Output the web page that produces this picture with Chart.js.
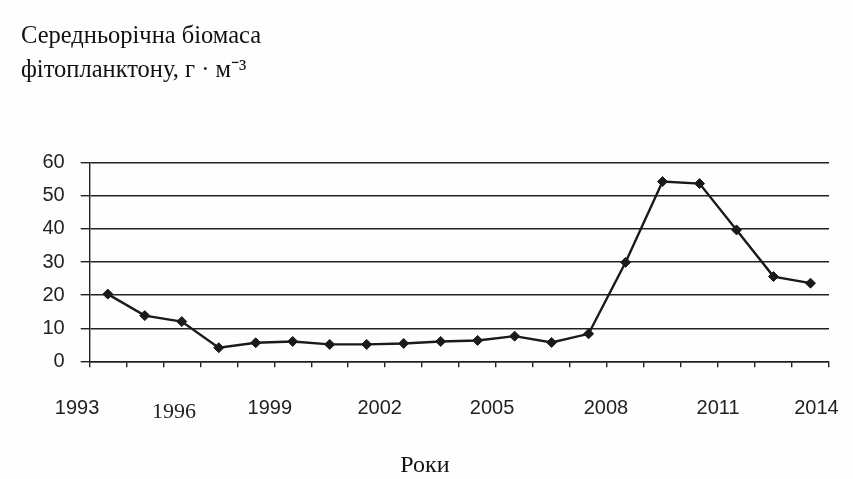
<!DOCTYPE html>
<html lang="uk">
<head>
  <meta charset="UTF-8" />
  <title>Середньорічна біомаса фітопланктону</title>
  <script src="https://cdn.jsdelivr.net/npm/chart.js"></script>
  <style>
    body {
      margin: 0;
      background: #fefefe;
    }
    #wrap {
      width: 853px;
      height: 479px;
    }
  </style>
</head>
<body>
  <div id="wrap">
    <canvas id="biomassChart" width="853" height="479"></canvas>
  </div>

  <script>
    // one point per year of observation
    const years = ['1994', '1995', '1996', '1997', '1998', '1999', '2000', '2001', '2002', '2003',
                   '2004', '2005', '2006', '2007', '2008', '2009', '2010', '2011', '2012', '2013'];
    const biomass = [20.3, 13.8, 12.0, 4.1, 5.6, 6.0, 5.1, 5.1, 5.4, 6.0,
                     6.3, 7.6, 5.7, 8.3, 29.9, 54.3, 53.7, 39.7, 25.6, 23.6];
    const tickLabels = ['1993', '1996', '1999', '2002', '2005', '2008', '2011', '2014'];
    const yTicks = [0, 10, 20, 30, 40, 50, 60];
    const titleLines = ['Середньорічна біомаса', 'фітопланктону, г · м⁻³'];
    const xTitle = 'Роки';

    // where the year labels sit along the axis, in category widths from the left edge
    const labelSlots = [-0.33, 2.29, 4.88, 7.85, 10.89, 13.97, 17.0, 19.66];

    const ink = '#222';
    const sans = 'Liberation Sans, Arial, sans-serif';
    const serif = 'Liberation Serif, Times New Roman, serif';

    const ctx = document.getElementById('biomassChart').getContext('2d');
    new Chart(ctx, {
      type: 'line',
      data: {
        labels: years,
        datasets: [{
          data: biomass,
          borderColor: '#1a1a1a',
          borderWidth: 2.4,
          tension: 0,
          pointStyle: 'rectRot',
          pointRadius: 5,
          pointBackgroundColor: '#1a1a1a',
          pointBorderColor: '#1a1a1a',
          pointBorderWidth: 1
        }]
      },
      options: {
        responsive: false,
        animation: false,
        layout: { padding: { top: 20, left: 21, right: 24, bottom: 0 } },
        plugins: {
          legend: { display: false },
          tooltip: { enabled: false },
          title: {
            display: true,
            text: titleLines,
            align: 'start',
            color: '#111',
            font: { family: serif, size: 24.5, weight: 'normal', lineHeight: 34 / 24.5 },
            padding: { top: 0, bottom: 74.7 }
          },
          subtitle: {
            display: true,
            text: xTitle,
            position: 'bottom',
            color: '#111',
            font: { family: serif, size: 24, weight: 'normal', lineHeight: 1.1 },
            padding: 0
          }
        },
        scales: {
          x: {
            type: 'category',
            offset: true,
            weight: 0,
            grid: {
              offset: true,
              drawOnChartArea: false,
              drawTicks: true,
              tickLength: 6,
              color: ink,
              lineWidth: 1.4
            },
            border: { display: true, color: ink, width: 1.4 },
            ticks: { display: false },
            afterFit: (scale) => { scale.height = 6; }
          },
          xLabels: {
            type: 'linear',
            position: 'bottom',
            weight: 1,
            min: 0,
            max: years.length,
            grid: { display: false },
            border: { display: false },
            afterBuildTicks: (scale) => {
              scale.ticks = labelSlots.map((v) => ({ value: v }));
            },
            afterFit: (scale) => {
              scale.height = 85.3;
              scale.paddingLeft = 0;
              scale.paddingRight = 0;
            },
            ticks: {
              autoSkip: false,
              maxRotation: 0,
              padding: 21.2,
              color: ink,
              callback: (value, index) => tickLabels[index],
              font: (c) => (c.tick && c.tick.label === '1996')
                ? { family: serif, size: 22, lineHeight: 31 / 22 }
                : { family: sans, size: 20, lineHeight: 1.2 }
            }
          },
          y: {
            min: yTicks[0],
            max: yTicks[yTicks.length - 1],
            afterBuildTicks: (scale) => {
              scale.ticks = yTicks.map((v) => ({ value: v }));
            },
            afterFit: (scale) => { scale.width = 68.3; },
            grid: {
              color: ink,
              lineWidth: 1.4,
              tickLength: 8.6
            },
            border: { display: true, color: ink, width: 1.4 },
            ticks: {
              padding: 16,
              color: ink,
              font: { family: sans, size: 20 }
            }
          }
        }
      }
    });
  </script>
</body>
</html>
